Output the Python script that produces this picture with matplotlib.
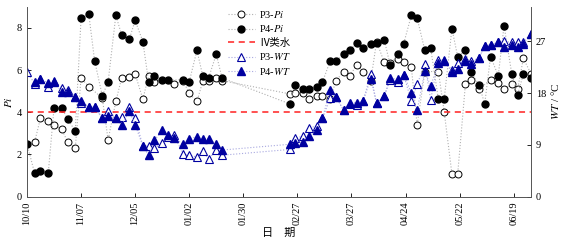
import matplotlib
matplotlib.use('Agg')
import matplotlib.pyplot as plt

# days counted from 10/10
p4_pi_days = [0, 4, 7, 11, 14, 18, 21, 25, 28, 32, 35, 39, 42, 46, 49, 53, 56, 60, 63, 66, 70, 73,
              81, 84, 88, 91, 94, 98, 101, 136, 139, 143, 146, 150, 153, 157, 160, 164, 167, 171,
              174, 178, 181, 185, 188, 192, 195, 199, 202, 206, 209, 213, 216, 220, 223, 227, 230,
              234, 237, 240, 244, 247, 251, 254, 257, 261]
p4_pi = [2.5, 1.1, 1.2, 1.1, 4.2, 4.2, 3.7, 3.1, 8.45, 8.65, 6.45, 4.78, 5.43, 8.59, 7.67, 7.47, 8.35,
         7.35, 5.43, 5.73, 5.54, 5.52, 5.54, 5.44, 6.93, 5.73, 5.62, 6.75, 5.62, 4.40, 5.3, 5.11, 5.11,
         5.22, 5.43, 6.44, 6.44, 6.75, 6.96, 7.28, 7.04, 7.24, 7.28, 7.43, 6.25, 6.75, 7.24, 8.59, 8.46,
         6.93, 7.04, 4.62, 4.62, 7.96, 6.64, 6.93, 5.9, 5.3, 4.40, 6.64, 5.73, 8.1, 5.82, 4.82, 5.82, 5.62]

p3_pi_days = [4, 7, 11, 14, 18, 21, 25, 28, 32, 39, 42, 46, 49, 53, 56, 60, 63, 66, 76, 81, 84, 88,
              91, 94, 98, 101, 136, 139, 143, 146, 150, 153, 157, 160, 164, 167, 171, 174, 178, 181,
              185, 188, 192, 195, 199, 202, 206, 213, 216, 220, 223, 227, 230, 234, 240, 244, 247,
              251, 254, 257, 261]
p3_pi = [2.61, 3.72, 3.6, 3.4, 3.2, 2.6, 2.3, 5.62, 5.22, 4.67, 2.69, 4.51, 5.62, 5.69, 5.82, 4.62,
         5.73, 5.43, 5.36, 5.46, 4.9, 4.51, 5.46, 5.49, 5.62, 5.5, 4.87, 4.9, 4.9, 4.62, 4.79, 4.79,
         4.62, 5.5, 5.93, 5.73, 6.25, 5.93, 5.5, 7.35, 6.36, 6.33, 6.52, 6.36, 6.14, 3.4, 5.93, 5.93,
         4.03, 1.08, 1.08, 5.33, 5.54, 5.09, 5.54, 5.41, 5.09, 5.33, 5.09, 6.55, 5.82]

p4_wt_days = [4, 7, 11, 14, 18, 21, 25, 28, 32, 35, 39, 42, 46, 49, 53, 56, 60, 63, 66, 70, 73, 76,
              81, 84, 88, 91, 94, 98, 101, 136, 139, 143, 146, 150, 153, 157, 160, 164, 167, 171,
              174, 178, 181, 185, 188, 192, 195, 199, 202, 206, 209, 213, 216, 220, 223, 227, 230,
              234, 237, 240, 244, 247, 251, 254, 257, 261]
p4_wt = [19.9, 20.5, 19.7, 19.9, 18.2, 18.2, 17.4, 16.6, 15.6, 15.6, 13.6, 14.1, 13.6, 12.5, 14.8,
         12.5, 8.8, 7.2, 9.8, 11.5, 10.8, 10.2, 9.1, 10.1, 10.4, 10.0, 10.1, 9.1, 8.1, 9.1, 9.4, 9.5,
         10.5, 11.5, 13.6, 18.6, 17.3, 15.0, 16.3, 16.3, 16.6, 20.5, 16.2, 17.5, 20.6, 20.4, 21.2,
         18.0, 15.0, 21.8, 19.2, 23.2, 23.5, 21.7, 22.2, 23.5, 23.1, 24.1, 26.2, 26.4, 26.8, 26.0,
         26.4, 26.0, 26.5, 28.3]

p3_wt_days = [0, 4, 7, 11, 14, 18, 21, 25, 28, 32, 35, 39, 42, 46, 49, 53, 56, 60, 63, 66, 70, 73,
              76, 81, 84, 88, 91, 94, 98, 101, 136, 139, 143, 146, 150, 153, 157, 160, 164, 167,
              171, 174, 178, 181, 185, 188, 192, 195, 199, 202, 206, 209, 213, 216, 220, 223, 227,
              230, 234, 237, 240, 244, 247, 251, 254, 257, 261]
p3_wt = [21.7, 19.6, 20.5, 19.1, 20.1, 18.9, 18.6, 17.4, 16.2, 15.6, 15.6, 13.6, 14.8, 13.6, 13.8,
         15.6, 13.7, 8.8, 8.8, 8.4, 9.3, 10.4, 10.7, 7.4, 7.2, 6.9, 8.0, 6.5, 8.1, 7.2, 8.2, 10.2,
         10.5, 11.9, 12.3, 13.6, 17.1, 17.3, 15.0, 16.1, 16.0, 16.6, 21.3, 16.2, 17.5, 20.2, 20.0,
         21.2, 16.6, 19.5, 23.1, 16.8, 23.8, 23.7, 22.0, 23.2, 24.0, 23.5, 24.1, 26.2, 26.4, 26.8,
         27.0, 26.8, 26.8, 26.9, 28.3]

tick_days = [0, 28, 56, 84, 112, 140, 168, 196, 224, 252]
tick_labels = ['10/10', '11/07', '12/05', '01/02', '01/30', '02/27', '03/27', '04/24', '05/22', '06/19']
class_iv = 4

plt.rcParams['font.family'] = ['Liberation Serif', 'Noto Sans CJK SC']
plt.rcParams['mathtext.fontset'] = 'stix'
plt.rcParams['font.size'] = 7.5

fig = plt.figure(figsize=(5.62, 2.41), dpi=100)
ax = fig.add_axes([0.048, 0.184, 0.897, 0.788])
ax2 = ax.twinx()

grey = '#b0b0b0'
blue = '#0000a0'
h1, = ax.plot(p3_pi_days, p3_pi, ':', color=grey, lw=0.8, marker='o', ms=5,
              mfc='white', mec='black', mew=0.7, label='P3-$Pi$')
h2, = ax.plot(p4_pi_days, p4_pi, ':', color=grey, lw=0.8, marker='o', ms=5,
              mfc='black', mec='black', label='P4-$Pi$')
h3 = ax.axhline(class_iv, color='#ff2020', ls=(0, (4, 3)), lw=1.1, label='Ⅳ类水')
h4, = ax2.plot(p3_wt_days, p3_wt, ':', color='#a8a8e0', lw=0.8, marker='^', ms=5.2,
               mfc='white', mec=blue, mew=0.8, label='P3-$WT$')
h5, = ax2.plot(p4_wt_days, p4_wt, ':', color='#a8a8e0', lw=0.8, marker='^', ms=5.2,
               mfc=blue, mec=blue, label='P4-$WT$')

ax.set_xlim(0, 261)
ax.set_ylim(0, 9)
ax2.set_ylim(0, 33)
ax.set_yticks([0, 2, 4, 6, 8])
ax2.set_yticks([0, 9, 18, 27])
ax.set_xticks(tick_days)
ax.set_xticklabels(tick_labels, rotation=90)
for a in (ax, ax2):
    a.spines['top'].set_visible(False)
    a.tick_params(direction='in', length=3, width=0.6, labelsize=7.5)
    for s in a.spines.values():
        s.set_linewidth(0.6)
        s.set_color('#555555')

ax.set_ylabel('$Pi$', fontsize=8, labelpad=2)
ax2.set_ylabel('$WT$ / °C', fontsize=8, labelpad=2)
ax.set_xlabel('日　期', fontsize=8, labelpad=2)

leg = ax.legend(handles=[h1, h2, h3, h4, h5], loc='upper left', bbox_to_anchor=(0.38, 1.04),
                frameon=False, fontsize=7.5, handlelength=2.6, labelspacing=0.35, handletextpad=0.4)

plt.savefig('out.png', dpi=100)
plt.close()
